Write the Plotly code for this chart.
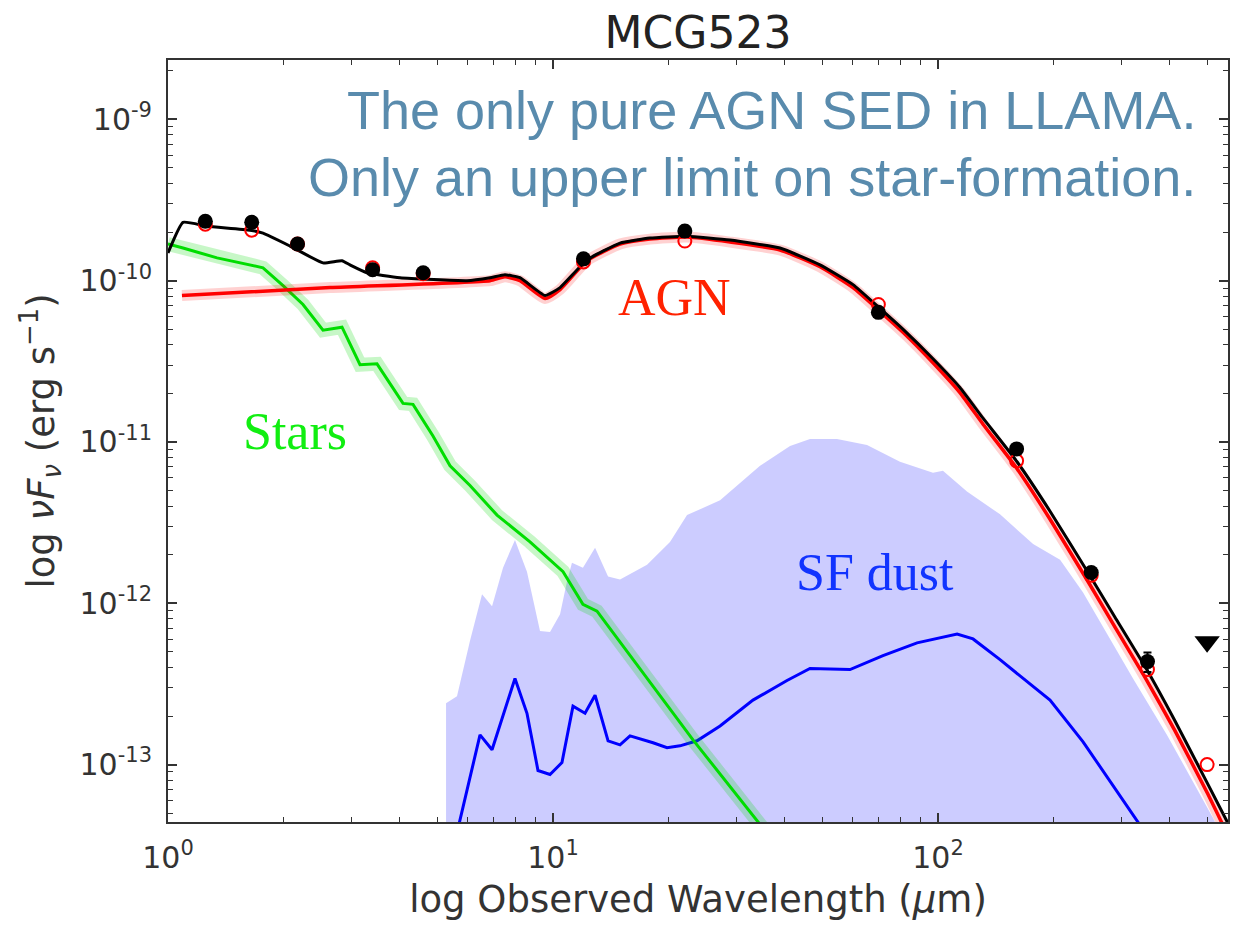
import plotly.graph_objects as go

# ---------------- data (wavelength in micron, nuFnu in erg/s) ----------------
total_wave = [1.00, 1.094, 1.263, 1.633, 1.765, 2.074, 2.527, 2.831, 2.97, 3.287, 4.005,
              5.979, 6.862, 7.504, 8.207, 9.533, 10.43, 12.26, 14.93, 17.86, 22.29, 28.82,
              38.87, 49.38, 60.15, 70.69, 82.1, 97.05, 114.0, 130.9, 160.4, 195.4, 245.2,
              288.2, 344.9, 412.7, 499.5, 590.6]
total_flux = [1.485e-10, 2.30e-10, 2.175e-10, 2.056e-10, 1.97e-10, 1.639e-10, 1.289e-10, 1.33e-10,
              1.253e-10, 1.12e-10, 1.043e-10, 1.0e-10, 1.043e-10, 1.088e-10, 1.043e-10, 8.09e-11,
              9.06e-11, 1.345e-10, 1.71e-10, 1.836e-10, 1.888e-10, 1.784e-10, 1.593e-10, 1.253e-10,
              9.45e-11, 6.73e-11, 4.87e-11, 3.28e-11, 2.175e-11, 1.404e-11, 7.54e-12, 3.72e-12,
              1.55e-12, 8.2e-13, 4.05e-13, 1.862e-13, 7.75e-14, 3.56e-14]

agn_wave = [1.087, 2.636, 6.862, 7.504, 8.207, 9.533, 10.43, 12.26, 14.93, 17.86, 22.29, 28.82,
            38.87, 49.38, 60.15, 70.69, 82.1, 97.05, 114.0, 130.9, 160.4, 195.4, 245.2, 288.2,
            344.9, 412.7, 499.5, 573.3]
agn_flux = [8.09e-11, 9.06e-11, 1.0e-10, 1.058e-10, 1.0e-10, 7.75e-11, 8.81e-11, 1.33e-10,
            1.686e-10, 1.81e-10, 1.862e-10, 1.734e-10, 1.549e-10, 1.219e-10, 9.06e-11, 6.45e-11,
            4.66e-11, 3.10e-11, 2.025e-11, 1.289e-11, 6.83e-12, 3.32e-12, 1.365e-12, 7.12e-13,
            3.47e-13, 1.616e-13, 6.73e-14, 3.42e-14]

stars_wave = [1.00, 1.094, 1.341, 1.633, 1.765, 1.99, 2.242, 2.527, 2.831, 3.153, 3.49, 4.078,
              4.329, 4.878, 5.402, 6.087, 7.155, 8.714, 10.62, 11.96, 13.01, 23.10, 36.6]
stars_flux = [1.686e-10, 1.593e-10, 1.384e-10, 1.253e-10, 1.202e-10, 9.32e-11, 7.12e-11, 4.93e-11,
              5.15e-11, 3.01e-11, 3.05e-11, 1.734e-11, 1.71e-11, 1.088e-11, 7.12e-12, 5.37e-12,
              3.52e-12, 2.40e-12, 1.571e-12, 9.86e-13, 8.93e-13, 1.423e-13, 3.56e-14]

sfdust_wave = [5.598, 6.463, 6.945, 7.966, 8.558, 9.141, 9.822, 10.55, 11.27, 12.11, 12.86, 13.90,
               14.93, 15.85, 18.19, 19.78, 21.37, 23.66, 27.16, 33.07, 40.53, 46.5, 59.08, 71.96,
               88.22, 112.1, 123.3, 144.9, 195.4, 238.1, 351.3]
sfdust_flux = [3.56e-14, 1.528e-13, 1.236e-13, 3.42e-13, 2.08e-13, 9.19e-14, 8.68e-14, 1.029e-13,
               2.30e-13, 2.08e-13, 2.69e-13, 1.404e-13, 1.326e-13, 1.506e-13, 1.365e-13, 1.271e-13,
               1.307e-13, 1.404e-13, 1.734e-13, 2.51e-13, 3.32e-13, 3.94e-13, 3.88e-13, 4.73e-13,
               5.68e-13, 6.45e-13, 6.01e-13, 4.47e-13, 2.51e-13, 1.384e-13, 3.56e-14]

sfband_wave = [5.274, 5.274, 5.631, 6.087, 6.541, 6.945, 7.416, 7.966, 8.558, 9.252, 9.822, 10.43,
               10.87, 11.20, 11.96, 12.86, 13.90, 14.93, 17.55, 20.13, 22.29, 27.16, 34.49, 41.27,
               46.5, 54.66, 65.41, 79.66, 97.05, 103.0, 118.9, 144.9, 176.6, 207.5, 238.1, 321.0,
               393.3, 518.1, 546.8]
sfband_upper = [3.56e-14, 2.40e-13, 2.65e-13, 5.85e-13, 1.136e-12, 9.58e-13, 1.663e-12, 2.47e-12,
                1.571e-12, 6.73e-13, 6.64e-13, 8.56e-13, 1.365e-12, 1.784e-12, 1.663e-12, 2.21e-12,
                1.464e-12, 1.404e-12, 1.734e-12, 2.40e-12, 3.52e-12, 4.35e-12, 7.12e-12, 9.45e-12,
                1.043e-11, 1.043e-11, 9.58e-12, 7.54e-12, 6.45e-12, 6.64e-12, 4.93e-12, 3.56e-12,
                2.33e-12, 1.862e-12, 1.168e-12, 3.42e-13, 1.528e-13, 4.67e-14, 3.56e-14]
sfband_low_wave = [5.274, 546.8]
sfband_lower = [1e-15, 1e-15]

obs_wave = [1.25, 1.65, 2.17, 3.4, 4.6, 12, 22, 70, 160, 250, 350]
obs_flux = [2.334e-10, 2.30e-10, 1.686e-10, 1.168e-10, 1.12e-10, 1.365e-10, 2.03e-10,
            6.36e-11, 9.06e-12, 1.55e-12, 4.35e-13]
obs_err = [1.6e-11, 1.6e-11, 8e-12, 4e-12, 4e-12, 6e-12, 1.6e-11, 3e-12, 5e-13, 1e-13, 6e-14]

model_wave = [1.25, 1.65, 2.17, 3.4, 4.6, 12, 22, 70, 160, 250, 350, 500]
model_flux = [2.24e-10, 2.056e-10, 1.686e-10, 1.202e-10, 1.104e-10, 1.307e-10, 1.76e-10,
              7.12e-11, 7.64e-12, 1.49e-12, 3.88e-13, 1.0e-13]

ulim_wave = [500]
ulim_flux = [5.77e-13]

x_tick_vals = [1, 10, 100]
x_tick_text = ["10<sup>0</sup>", "10<sup>1</sup>", "10<sup>2</sup>"]
y_tick_vals = [1e-13, 1e-12, 1e-11, 1e-10, 1e-9]
y_tick_text = ["10<sup>-13</sup>", "10<sup>-12</sup>", "10<sup>-11</sup>",
               "10<sup>-10</sup>", "10<sup>-9</sup>"]

# ---------------- figure ----------------
fig = go.Figure()

# SF dust uncertainty band
fig.add_trace(go.Scatter(x=sfband_low_wave, y=sfband_lower, mode="lines",
                         line=dict(width=0), showlegend=False, hoverinfo="skip"))
fig.add_trace(go.Scatter(x=sfband_wave, y=sfband_upper, mode="lines", fill="tonexty",
                         fillcolor="rgba(0,0,255,0.2)", line=dict(width=0),
                         showlegend=False, hoverinfo="skip"))
# SF dust line
fig.add_trace(go.Scatter(x=sfdust_wave, y=sfdust_flux, mode="lines",
                         line=dict(color="#0000ff", width=3), showlegend=False))
# Stars band + line
fig.add_trace(go.Scatter(x=stars_wave, y=stars_flux, mode="lines",
                         line=dict(color="rgba(0,220,0,0.22)", width=14), showlegend=False))
fig.add_trace(go.Scatter(x=stars_wave, y=stars_flux, mode="lines",
                         line=dict(color="#00dd00", width=3), showlegend=False))
# AGN band + line
fig.add_trace(go.Scatter(x=agn_wave, y=agn_flux, mode="lines",
                         line=dict(color="rgba(255,0,0,0.18)", width=11, shape="spline",
                                   smoothing=0.5), showlegend=False))
fig.add_trace(go.Scatter(x=agn_wave, y=agn_flux, mode="lines",
                         line=dict(color="#ff0000", width=3.5, shape="spline", smoothing=0.5),
                         showlegend=False))
# total
fig.add_trace(go.Scatter(x=total_wave, y=total_flux, mode="lines",
                         line=dict(color="#000000", width=3, shape="spline", smoothing=0.4),
                         showlegend=False))
# model photometry
fig.add_trace(go.Scatter(x=model_wave, y=model_flux, mode="markers",
                         marker=dict(symbol="circle-open", size=13, color="#ff0000",
                                     line=dict(width=2, color="#ff0000")),
                         showlegend=False))
# observed photometry
fig.add_trace(go.Scatter(x=obs_wave, y=obs_flux, mode="markers",
                         error_y=dict(type="data", array=obs_err, color="#000000",
                                      thickness=2, width=4),
                         marker=dict(symbol="circle", size=15, color="#000000"),
                         showlegend=False))
# upper limit
fig.add_trace(go.Scatter(x=ulim_wave, y=ulim_flux, mode="markers",
                         marker=dict(symbol="triangle-down", size=22, color="#000000"),
                         showlegend=False))

minor_x = [m * 10 ** e for e in range(0, 3) for m in range(2, 10)]
minor_y = [m * 10 ** e for e in range(-14, -8) for m in range(2, 10)]

axis_common = dict(
    showline=True, linecolor="#333333", linewidth=2, mirror="allticks",
    ticks="inside", ticklen=9, tickwidth=1.5, tickcolor="#333333",
    showgrid=False, zeroline=False,
    tickfont=dict(family="DejaVu Sans", size=30, color="#333333"),
    title_font=dict(family="DejaVu Sans", size=37, color="#333333"),
)

fig.update_xaxes(type="log", range=[0, 2.7532], tickmode="array",
                 tickvals=x_tick_vals, ticktext=x_tick_text,
                 minor=dict(tickmode="array", tickvals=minor_x, ticks="inside",
                            ticklen=5, tickwidth=1.2, tickcolor="#333333", showgrid=False),
                 title=dict(text="log Observed Wavelength (<i>μ</i>m)", standoff=12),
                 ticklabelstandoff=8,
                 **axis_common)
fig.update_yaxes(type="log", range=[-13.356, -8.632], tickmode="array",
                 tickvals=y_tick_vals, ticktext=y_tick_text,
                 minor=dict(tickmode="array", tickvals=minor_y, ticks="inside",
                            ticklen=5, tickwidth=1.2, tickcolor="#333333", showgrid=False),
                 title=dict(text="log <i>νF</i><sub><i>ν</i></sub> (erg s<sup>−1</sup>)",
                            standoff=14),
                 ticklabelstandoff=8,
                 **axis_common)

ann_blue = "#598bad"
fig.add_annotation(xref="paper", yref="paper", x=0.9717, y=0.935, xanchor="right",
                   yanchor="middle", showarrow=False,
                   text="The only pure AGN SED in LLAMA.",
                   font=dict(family="Liberation Sans", size=54, color=ann_blue))
fig.add_annotation(xref="paper", yref="paper", x=0.9717, y=0.847, xanchor="right",
                   yanchor="middle", showarrow=False,
                   text="Only an upper limit on star-formation.",
                   font=dict(family="Liberation Sans", size=54, color=ann_blue))
fig.add_annotation(xref="paper", yref="paper", x=0.478, y=0.688, xanchor="center",
                   yanchor="middle", showarrow=False,
                   text="AGN", font=dict(family="Liberation Serif", size=52, color="#ff2200"))
fig.add_annotation(xref="paper", yref="paper", x=0.120, y=0.513, xanchor="center",
                   yanchor="middle", showarrow=False,
                   text="Stars", font=dict(family="Liberation Serif", size=52, color="#11ee11"))
fig.add_annotation(xref="paper", yref="paper", x=0.667, y=0.327, xanchor="center",
                   yanchor="middle", showarrow=False,
                   text="SF dust", font=dict(family="Liberation Serif", size=52, color="#1133ff"))

fig.update_layout(
    width=1244, height=925,
    margin=dict(l=168, r=16, t=60, b=95),
    paper_bgcolor="white", plot_bgcolor="white",
    title=dict(text="MCG523", x=0.5, xref="paper", xanchor="center",
               y=0.965, yref="container", yanchor="middle",
               font=dict(family="DejaVu Sans", size=44, color="#222222")),
    showlegend=False,
)

fig.write_html("out.html")
